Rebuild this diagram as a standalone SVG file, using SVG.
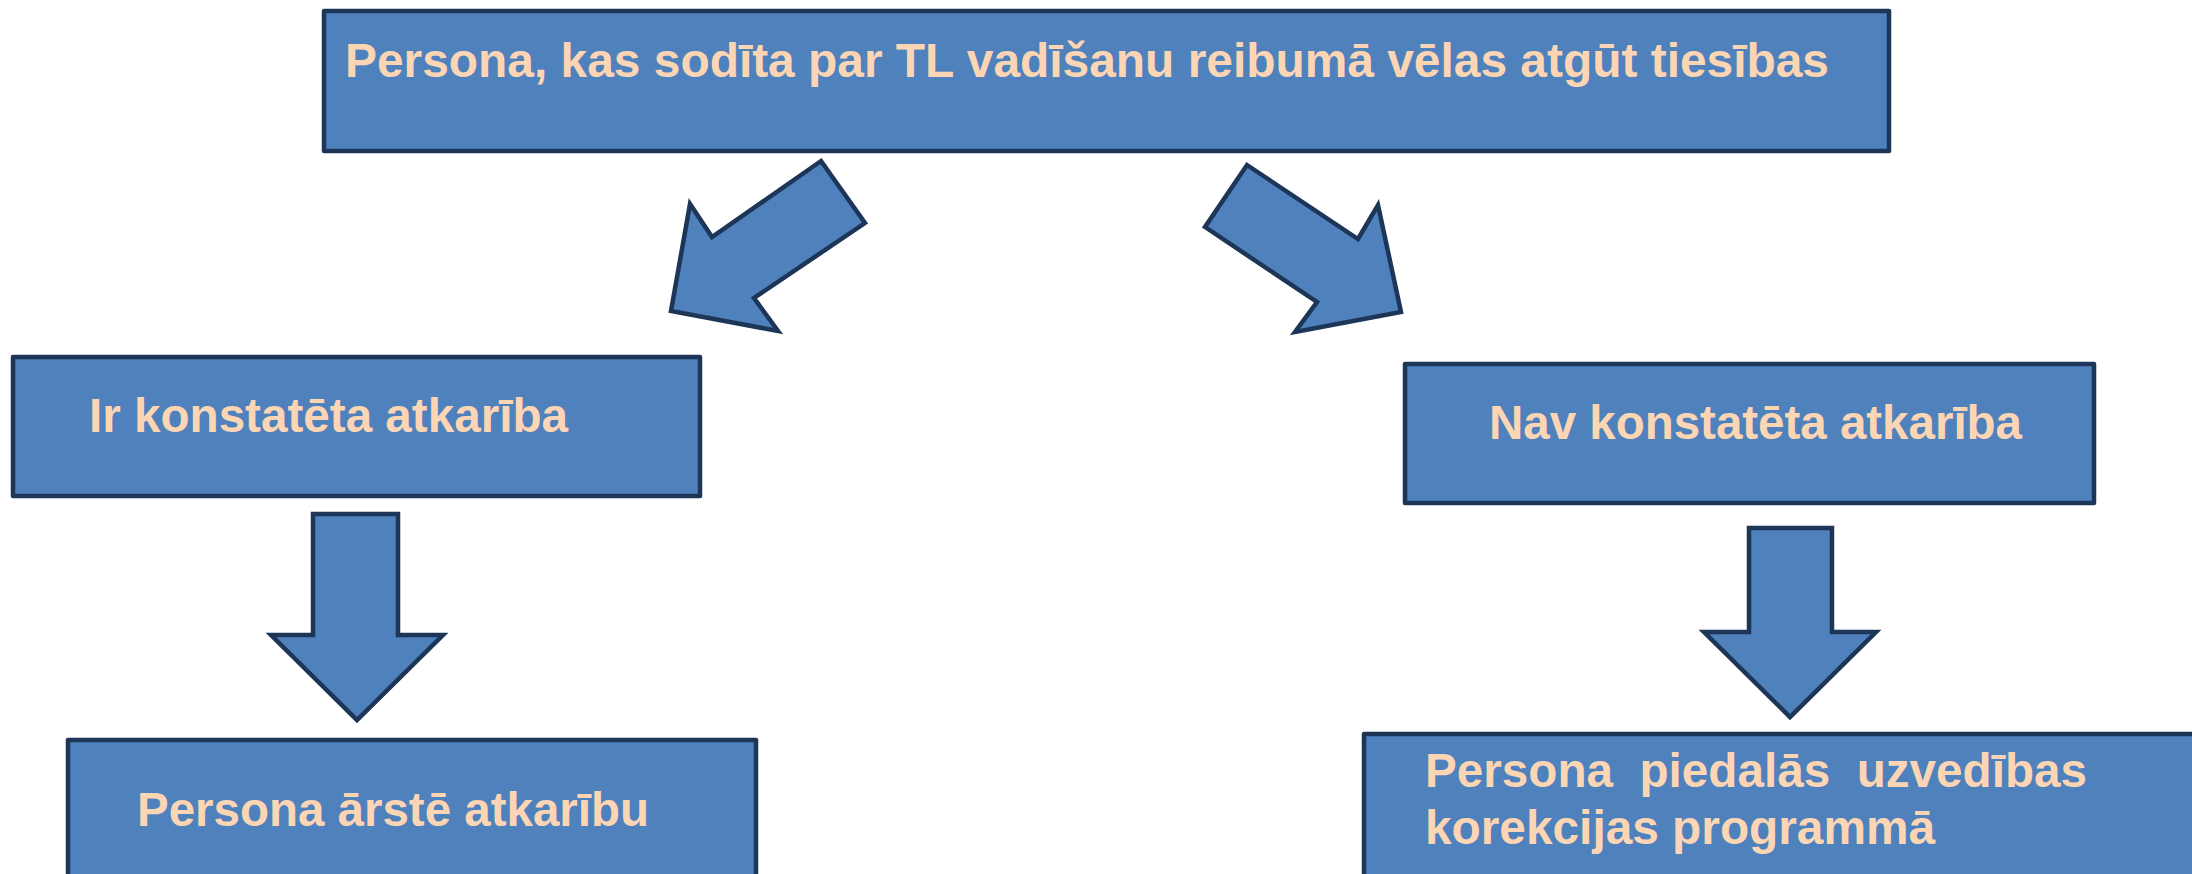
<svg xmlns="http://www.w3.org/2000/svg" width="2192" height="874" viewBox="0 0 2192 874">
<style>
.box{fill:#4F81BD;stroke:#1D3557;stroke-width:4.5;stroke-linejoin:round}
.arr{fill:#4F81BD;stroke:#1D3557;stroke-width:4.5;stroke-linejoin:miter}
.t{font-family:"Liberation Sans",Arial,sans-serif;font-weight:bold;font-size:48px;fill:#FCD5B4}
</style>
<rect width="2192" height="874" fill="#ffffff"/>
<g id="node-top">
<rect class="box" x="324" y="11" width="1565" height="140"/>
<text class="t" x="345" y="77" textLength="1484" lengthAdjust="spacingAndGlyphs">Persona, kas sodīta par TL vadīšanu reibumā vēlas atgūt tiesības</text>
</g>
<g id="node-ir">
<rect class="box" x="13" y="357" width="687" height="139"/>
<text class="t" x="89" y="432" textLength="479" lengthAdjust="spacingAndGlyphs">Ir konstatēta atkarība</text>
</g>
<g id="node-nav">
<rect class="box" x="1405" y="364" width="689" height="139"/>
<text class="t" x="1489" y="439" textLength="533" lengthAdjust="spacingAndGlyphs">Nav konstatēta atkarība</text>
</g>
<g id="node-arste">
<rect class="box" x="68" y="740" width="688" height="160"/>
<text class="t" x="137" y="826" textLength="512" lengthAdjust="spacingAndGlyphs">Persona ārstē atkarību</text>
</g>
<g id="node-programma">
<rect class="box" x="1364" y="734" width="860" height="170"/>
<text class="t" x="1425" y="787" textLength="662" lengthAdjust="spacingAndGlyphs" xml:space="preserve">Persona  piedalās  uzvedības</text>
<text class="t" x="1425" y="844" textLength="510" lengthAdjust="spacingAndGlyphs">korekcijas programmā</text>
</g>
<g id="connectors">
<polygon class="arr" points="821,161 865,223 754,298 778,331 671,311 690,204 712,237"/>
<polygon class="arr" points="1247,165 1358,239 1378,205 1401,312 1295,332 1317,302 1205,227"/>
<polygon class="arr" points="313,514 398,514 398,635 443,635 357,720 271,635 313,635"/>
<polygon class="arr" points="1749,528 1832,528 1832,632 1876,632 1790,717 1704,632 1749,632"/>
</g>
</svg>
